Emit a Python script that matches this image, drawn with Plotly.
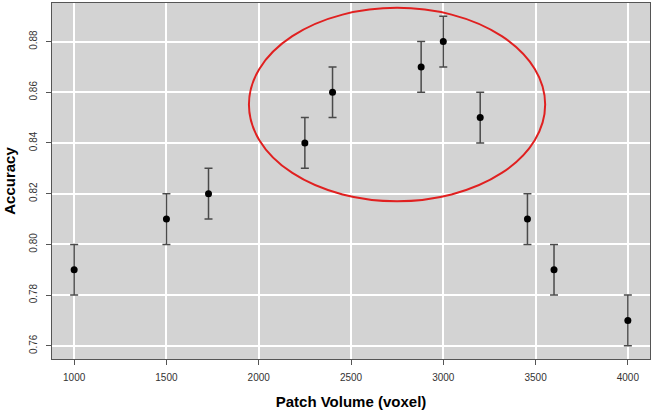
import plotly.graph_objects as go

patch_volume = [1000, 1500, 1728, 2250, 2400, 2880, 3000, 3200, 3456, 3600, 4000]
accuracy = [0.79, 0.81, 0.82, 0.84, 0.86, 0.87, 0.88, 0.85, 0.81, 0.79, 0.77]
acc_err = [0.01] * len(accuracy)

x_ticks = [1000, 1500, 2000, 2500, 3000, 3500, 4000]
y_ticks = [0.76, 0.78, 0.80, 0.82, 0.84, 0.86, 0.88]

fig = go.Figure()
fig.add_trace(go.Scatter(
    x=patch_volume,
    y=accuracy,
    mode='markers',
    marker=dict(color='black', size=7),
    error_y=dict(type='data', array=acc_err, color='#4a4a4a', thickness=1.5, width=4),
    showlegend=False
))

# highlight ellipse around the peak
fig.add_shape(type='circle', xref='x', yref='y',
              x0=1947, x1=3552, y0=0.817, y1=0.8933,
              line=dict(color='#e02020', width=2))

axis_font = dict(family='Liberation Sans, Arial', size=10, color='#333')
title_font = dict(family='Liberation Sans, Arial', size=15, color='black')

fig.update_layout(
    width=653, height=410,
    margin=dict(l=52, r=3, t=3, b=51),
    plot_bgcolor='#d3d3d3',
    paper_bgcolor='white',
    xaxis=dict(
        range=[880, 4120], tickvals=x_ticks, showgrid=True, gridcolor='white', gridwidth=1.5,
        zeroline=False, showline=True, linecolor='#555', linewidth=1.2, mirror=True,
        ticks='outside', ticklen=5, tickcolor='#555', tickfont=axis_font, ticklabelstandoff=4,
        title=dict(text='<b>Patch Volume (voxel)</b>', font=title_font, standoff=14),
        automargin=False
    ),
    yaxis=dict(
        range=[0.7548, 0.8952], tickvals=y_ticks, ticktext=[f'{v:.2f}' for v in y_ticks],
        tickangle=-90, showgrid=True, gridcolor='white', gridwidth=1.5,
        zeroline=False, showline=True, linecolor='#555', linewidth=1.2, mirror=True,
        ticks='outside', ticklen=5, tickcolor='#555', tickfont=axis_font, ticklabelstandoff=5,
        title=dict(text='<b>Accuracy</b>', font=title_font, standoff=8),
        automargin=False
    )
)

fig.write_html("out.html", config={'displayModeBar': False},
               post_script="document.body.style.margin='0';")
